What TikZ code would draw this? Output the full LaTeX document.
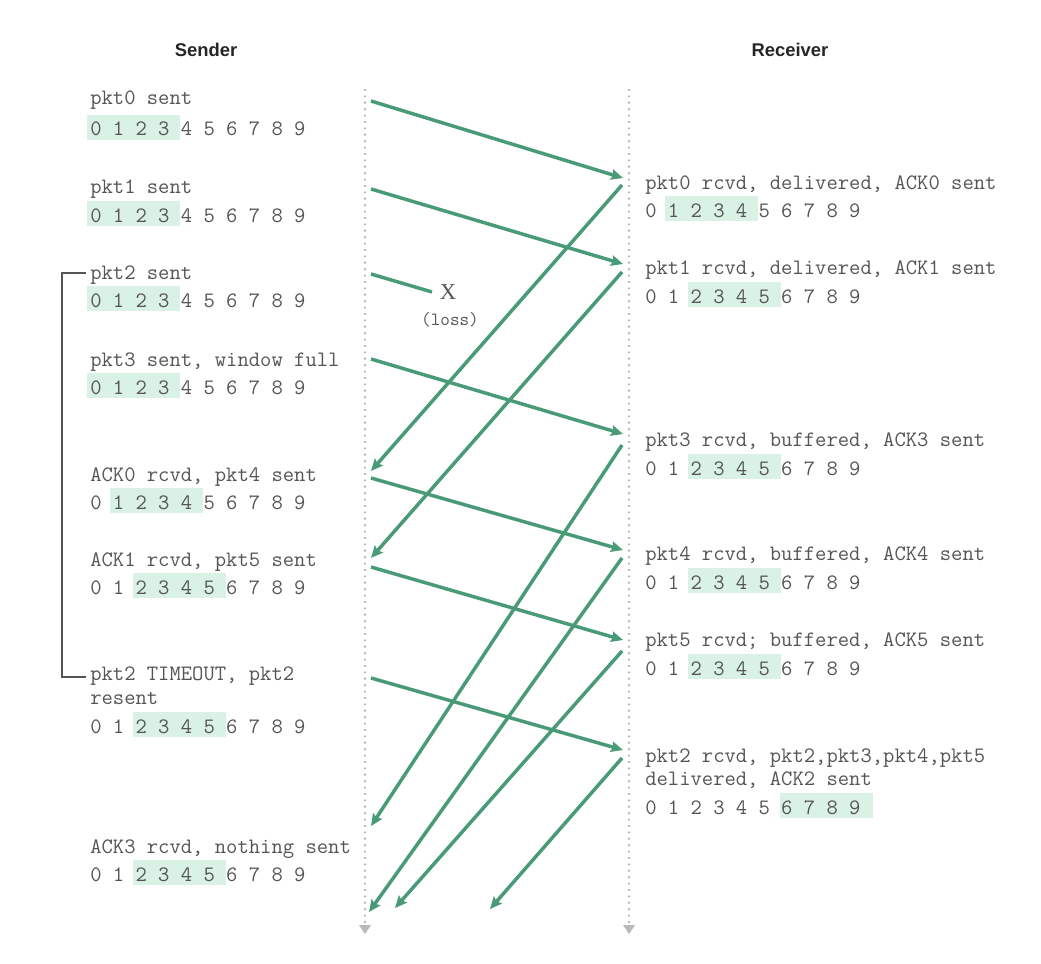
\documentclass[tikz,border=0pt]{standalone}
\usepackage{fontspec}
\usetikzlibrary{arrows.meta,calc}
\newfontfamily\headf{Liberation Sans}
\newfontfamily\serf{Liberation Serif}
\definecolor{arrowgreen}{RGB}{72,155,118}
\definecolor{hlgreen}{RGB}{218,241,230}
\definecolor{txtgray}{RGB}{85,85,85}
\definecolor{dotgray}{RGB}{185,185,185}
\tikzset{
  mono/.style={font=\ttfamily\fontsize{16.5}{19}\selectfont, text=txtgray, inner sep=0pt, anchor=base west},
  head/.style={font=\headf\bfseries\fontsize{13.8}{16}\selectfont, text=black!85, inner sep=0pt, anchor=base},
  hl/.style={fill=hlgreen},
  msg/.style={draw=arrowgreen, line width=2.6pt, -{Stealth[length=9pt,width=8pt,inset=1.5pt]}},
  lost/.style={draw=arrowgreen, line width=2.6pt},
  timeline/.style={draw=dotgray, line width=2pt, line cap=round, dash pattern=on 0pt off 4.8pt},
  bracketline/.style={draw=txtgray, line width=0.9pt},
}
\newcommand{\winrow}[5]{%
  \fill[hl] ({#2+(2*#4-0.3)*11.55},{#3-21}) rectangle ({#2+(2*#5+1.75)*11.55},{#3+4});
  \node[mono] (#1) at (#2,#3) {0 1 2 3 4 5 6 7 8 9};}
\begin{document}
\begin{tikzpicture}[x=0.75pt,y=-0.75pt]
\useasboundingbox[fill=white] (0,0) rectangle (1041,963);

% headers
\node[head] (sender) at (206,57) {Sender};
\node[head] (receiver) at (790,57) {Receiver};

% timelines
\coordinate (stop) at (365,90);
\coordinate (sbot) at (365,922);
\coordinate (rtop) at (629,90);
\coordinate (rbot) at (629,922);
\draw[timeline] (stop) -- (sbot);
\draw[timeline] (rtop) -- (rbot);
\fill[dotgray] (359,925) -- (371,925) -- (365,934) -- cycle;
\fill[dotgray] (623,925) -- (635,925) -- (629,934) -- cycle;

% sender texts
\node[mono] (s0) at (90,105) {pkt0 sent};
\winrow{s0w}{90}{136}{0}{3}
\node[mono] (s1) at (90,193) {pkt1 sent};
\winrow{s1w}{90}{222}{0}{3}
\node[mono] (s2) at (90,279) {pkt2 sent};
\winrow{s2w}{90}{307}{0}{3}
\node[mono] (s3) at (90,366) {pkt3 sent, window full};
\winrow{s3w}{90}{394}{0}{3}
\node[mono] (s4) at (90,481) {ACK0 rcvd, pkt4 sent};
\winrow{s4w}{90}{509}{1}{4}
\node[mono] (s5) at (90,566) {ACK1 rcvd, pkt5 sent};
\winrow{s5w}{90}{594}{2}{5}
\node[mono] (s6) at (90,680) {pkt2 TIMEOUT, pkt2};
\node[mono] (s6b) at (90,704) {resent};
\winrow{s6w}{90}{733}{2}{5}
\node[mono] (s7) at (90,853) {ACK3 rcvd, nothing sent};
\winrow{s7w}{90}{881}{2}{5}

% receiver texts
\node[mono] (r0) at (645,189) {pkt0 rcvd, delivered, ACK0 sent};
\winrow{r0w}{645}{217}{1}{4}
\node[mono] (r1) at (645,274) {pkt1 rcvd, delivered, ACK1 sent};
\winrow{r1w}{645}{303}{2}{5}
\node[mono] (r3) at (645,446) {pkt3 rcvd, buffered, ACK3 sent};
\winrow{r3w}{645}{475}{2}{5}
\node[mono] (r4) at (645,560) {pkt4 rcvd, buffered, ACK4 sent};
\winrow{r4w}{645}{589}{2}{5}
\node[mono] (r5) at (645,646) {pkt5 rcvd; buffered, ACK5 sent};
\winrow{r5w}{645}{675}{2}{5}
\node[mono] (r2) at (645,762) {pkt2 rcvd, pkt2,pkt3,pkt4,pkt5};
\node[mono] (r2b) at (645,785) {delivered, ACK2 sent};
\winrow{r2w}{645}{814}{6}{9}

% bracket
\coordinate (bt) at (86,273);
\coordinate (bb) at (86,677);
\draw[bracketline] (bt) -- (62,273) -- (62,677) -- (bb);

% loss
\node[font=\serf\fontsize{17}{20}\selectfont, text=txtgray, inner sep=0pt] (x) at (448,292) {X};
\node[font=\ttfamily\fontsize{14}{16}\selectfont, text=txtgray, inner sep=0pt] (loss) at (450,320) {(loss)};

% message endpoints
\coordinate (p0s) at (371,101); \coordinate (p0r) at (623,178);
\coordinate (p1s) at (371,189); \coordinate (p1r) at (623,264);
\coordinate (p2s) at (371,274); \coordinate (p2x) at (432,292);
\coordinate (p3s) at (371,359); \coordinate (p3r) at (623,434);
\coordinate (p4s) at (371,478); \coordinate (p4r) at (623,550);
\coordinate (p5s) at (371,567); \coordinate (p5r) at (623,640);
\coordinate (p6s) at (371,678); \coordinate (p6r) at (623,750);
\coordinate (a0s) at (622,185); \coordinate (a0r) at (371,471);
\coordinate (a1s) at (622,272); \coordinate (a1r) at (371,558);
\coordinate (a3s) at (622,445); \coordinate (a3r) at (371,826);
\coordinate (a4s) at (622,558); \coordinate (a4r) at (369,912);
\coordinate (a5s) at (622,651); \coordinate (a5r) at (395,908);
\coordinate (a2s) at (622,758); \coordinate (a2r) at (490,909);

\draw[msg] (p0s) -- (p0r);
\draw[msg] (p1s) -- (p1r);
\draw[lost] (p2s) -- (p2x);
\draw[msg] (p3s) -- (p3r);
\draw[msg] (p4s) -- (p4r);
\draw[msg] (p5s) -- (p5r);
\draw[msg] (p6s) -- (p6r);
\draw[msg] (a0s) -- (a0r);
\draw[msg] (a1s) -- (a1r);
\draw[msg] (a3s) -- (a3r);
\draw[msg] (a4s) -- (a4r);
\draw[msg] (a5s) -- (a5r);
\draw[msg] (a2s) -- (a2r);
\end{tikzpicture}
\end{document}
